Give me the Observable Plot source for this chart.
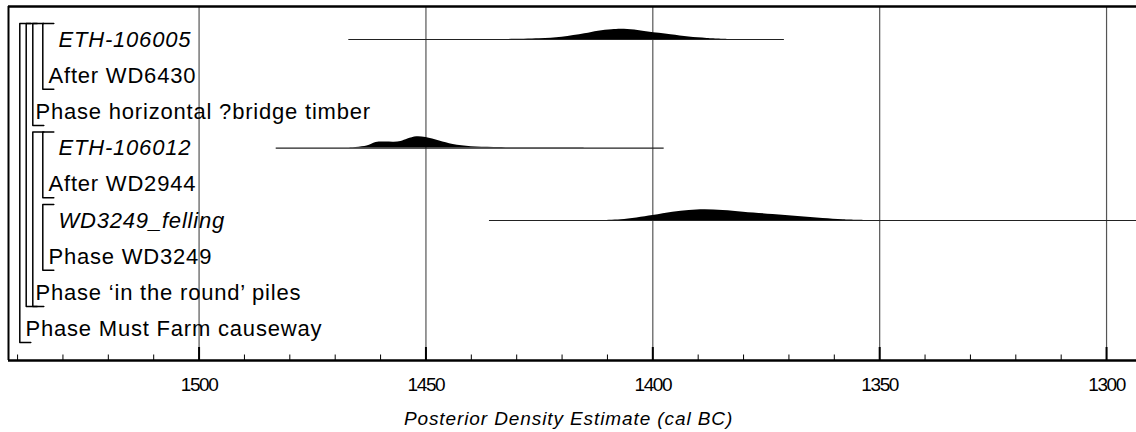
<!DOCTYPE html>
<html><head><meta charset="utf-8">
<script src="https://cdn.jsdelivr.net/npm/d3@7"></script>
<script src="https://cdn.jsdelivr.net/npm/@observablehq/plot@0.6"></script>
<style>
html,body{margin:0;padding:0;background:#fff}
</style></head><body><div id="chart"></div>
<script>
// ---- data ----
const rowLabels = ["ETH-106005","After WD6430","Phase horizontal ?bridge timber","ETH-106012","After WD2944","WD3249_felling","Phase WD3249","Phase \u2018in the round\u2019 piles","Phase Must Farm causeway"];
const rowDepth = [3,2,1,3,2,3,2,1,0];
const rowIsDate = [true,false,false,true,false,true,false,false,false];

// groups (brackets): first row, last row, bracket level
const groupNames = ["Phase Must Farm causeway","(sequence)","Phase horizontal ?bridge timber","After WD6430","Phase 'in the round' piles","After WD2944","Phase WD3249"];
const groupFirst = [0,0,0,0,3,3,5];
const groupLast  = [8,7,2,1,7,4,6];
const groupLevel = [0,1,2,3,2,3,3];

// posterior densities (cal BC) — relative heights
const eth106005Row = 0;
const eth106005Years   = [1433,1425,1420,1415,1412,1409,1407,1404,1401,1396,1392,1388,1383];
const eth106005Density = [0,0.07,0.23,0.57,0.83,0.98,1.03,0.96,0.75,0.48,0.24,0.1,0];
const eth106005Range = [1467,1371];

const eth106012Row = 3;
const eth106012Years   = [1467,1463,1461,1459,1457,1455.5,1454,1452,1450,1447,1444,1440,1435,1425,1416,1414];
const eth106012Density = [0,0.2,0.55,0.6,0.58,0.65,0.9,1.13,1.05,0.7,0.35,0.13,0.06,0.04,0.03,0];
const eth106012Range = [1483,1397.5];

const wd3249Row = 5;
const wd3249Years   = [1411,1407,1400,1395.6,1392,1388.6,1384.5,1380,1373.5,1368,1362.5,1358,1353];
const wd3249Density = [0,0.07,0.5,0.83,1.0,1.07,1.0,0.83,0.6,0.4,0.2,0.07,0];
const wd3249Range = [1436,1293.4];

const majorTicks = [1500,1450,1400,1350,1300];
const minorTicks = [1540,1530,1520,1510,1490,1480,1470,1460,1440,1430,1420,1410,1390,1380,1370,1360,1340,1330,1320,1310];
const xTitle = "Posterior Density Estimate (cal BC)";

// ---- layout ----
const W = 1136, H = 432;
const mL = 8, mR = 0, mT = 6, mB = 72;
const xLeft = 1542, xRight = 1293.4;
const rowPx = 36.2, firstRowPx = 39;
const yMin = -(firstRowPx - mT) / rowPx, yMax = (H - mB - firstRowPx) / rowPx;
const pxPerYear = (W - mL - mR) / (xLeft - xRight);
const xAt = px => xLeft - px / pxPerYear;
const yP = px => px / rowPx;
const labelIndent = [17, 27, 40, 50];
const bracketIndent = [11.3, 17.7, 24.3, 34.3];
const hUnit = yP(10);
const font = "'Liberation Sans', Arial, Helvetica, sans-serif";

// ---- tables ----
function densTable(name, row, years, dens) {
  return years.map((y, i) => ({name, row, year: y, d: dens[i]}));
}
const densities = [
  ...densTable("ETH-106005", eth106005Row, eth106005Years, eth106005Density),
  ...densTable("ETH-106012", eth106012Row, eth106012Years, eth106012Density),
  ...densTable("WD3249_felling", wd3249Row, wd3249Years, wd3249Density)
];
const ranges = [
  {row: eth106005Row, a: eth106005Range[0], b: eth106005Range[1]},
  {row: eth106012Row, a: eth106012Range[0], b: eth106012Range[1]},
  {row: wd3249Row, a: wd3249Range[0], b: wd3249Range[1]}
];
const bracketPts = [];
groupNames.forEach((g, i) => {
  const bx = bracketIndent[groupLevel[i]];
  const top = groupFirst[i] - yP(16), bot = groupLast[i] + yP(13.5);
  bracketPts.push({g, x: xAt(bx + 11), y: top});
  bracketPts.push({g, x: xAt(bx), y: top});
  bracketPts.push({g, x: xAt(bx), y: bot});
  bracketPts.push({g, x: xAt(bx + 11), y: bot});
});
const rowsIdx = rowLabels.map((_, i) => i);

const chart = Plot.plot({
  width: W, height: H,
  marginLeft: mL, marginRight: mR, marginTop: mT, marginBottom: mB,
  style: {fontFamily: font, background: "#fff", color: "#000"},
  x: {domain: [xLeft, xRight], axis: null},
  y: {domain: [yMin, yMax], reverse: true, axis: null},
  marks: [
    Plot.ruleX(majorTicks, {stroke: "#555", strokeWidth: 1.2}),
    Plot.ruleY(ranges, {y: "row", x1: "a", x2: "b", stroke: "#222", strokeWidth: 1.1}),
    Plot.area(densities, {x1: "year", y1: "row", y2: d => d.row - d.d * hUnit, z: "name", fill: "#000", curve: "catmull-rom"}),
    Plot.line(bracketPts, {x: "x", y: "y", z: "g", stroke: "#000", strokeWidth: 1.5, curve: "linear"}),
    Plot.text(rowsIdx.filter(i => !rowIsDate[i]), {x: i => xAt(labelIndent[rowDepth[i]]), y: i => i, text: i => rowLabels[i], textAnchor: "start", fontSize: 22, fill: "#000"}),
    Plot.text(rowsIdx.filter(i => rowIsDate[i]), {x: i => xAt(labelIndent[rowDepth[i]]), y: i => i, text: i => rowLabels[i], textAnchor: "start", fontSize: 22, fontStyle: "italic", fill: "#000"}),
    Plot.ruleY([yMin], {stroke: "#000", strokeWidth: 2.5}),
    Plot.ruleX([xLeft], {stroke: "#000", strokeWidth: 2}),
    Plot.ruleY([yMax], {stroke: "#000", strokeWidth: 2.5}),
    Plot.ruleX(minorTicks, {y1: yMax, y2: yMax - yP(5.5), stroke: "#000", strokeWidth: 1}),
    Plot.ruleX(majorTicks, {y1: yMax, y2: yMax - yP(13), stroke: "#000", strokeWidth: 2}),
    Plot.text(majorTicks, {x: d => d, text: d => String(d), frameAnchor: "bottom", lineAnchor: "middle", dy: 24, fontSize: 19, fill: "#000"}),
    Plot.text([xTitle], {frameAnchor: "bottom", lineAnchor: "middle", dy: 58, dx: -4, fontSize: 19, fontStyle: "italic", fill: "#000"})
  ]
});
// letter spacing to match the original type widths
const labelSet = new Set(rowLabels);
const tickSet = new Set(majorTicks.map(String));
d3.select(chart).selectAll("text").each(function() {
  const t = this.textContent;
  if (labelSet.has(t)) this.style.letterSpacing = "0.8px";
  else if (t === xTitle) this.style.letterSpacing = "0.9px";
  else if (tickSet.has(t)) this.style.letterSpacing = "-1.4px";
});
document.getElementById("chart").appendChild(chart);
</script>
</body></html>
